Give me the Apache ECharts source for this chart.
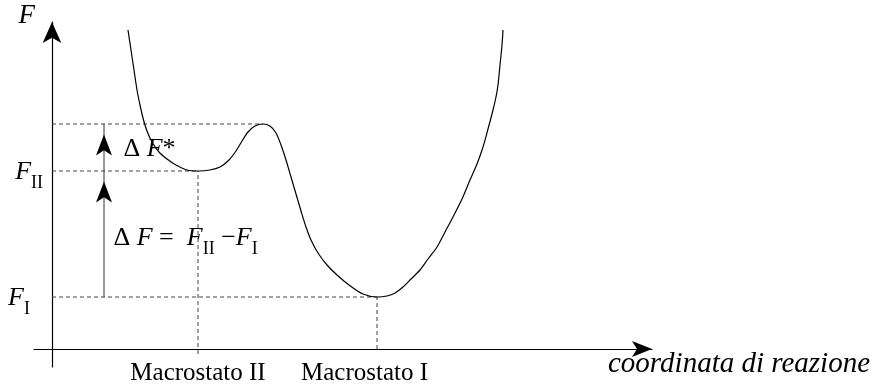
<!DOCTYPE html>
<html>
<head>
<meta charset="utf-8">
<script src="https://cdn.jsdelivr.net/npm/echarts@6/dist/echarts.min.js"></script>
<style>
  html, body { margin: 0; padding: 0; background: #fff; }
  #chart { width: 876px; height: 390px; }
</style>
</head>
<body>
<div id="chart"></div>
<script>
// profilo dell'energia libera lungo la coordinata di reazione (unita' arbitrarie)
var curveX = [76, 79, 82, 85, 88, 91, 95, 100, 107, 115, 124, 135, 146,
  158, 168, 177, 184, 190, 196, 203, 211,
  218, 224, 229, 234, 239, 244, 249, 254, 259, 266, 275, 285, 297, 311, 325,
  335, 343, 351, 359, 368, 376, 385, 393, 401, 410, 418, 425, 431, 436, 441, 444, 446, 448, 450, 451];
var curveF = [319, 299, 279, 259, 244, 231, 218, 207, 197, 190, 184, 179, 178,
  179, 182, 189, 198, 208, 217, 223, 225,
  223, 216, 204, 189, 172, 155, 138, 122, 109, 96, 84, 74, 64, 55, 52,
  53, 56, 62, 70, 79, 90, 102, 117, 132, 150, 169, 185, 202, 220, 239, 252, 264, 284, 304, 319];

var F_I = 52;        // minimo globale, Macrostato I
var F_II = 178;      // minimo locale, Macrostato II
var F_barrier = 225; // cima della barriera
var x_I = 325;
var x_II = 146;
var x_barrier = 211;
var x_arrow = 52;

var stateValues = [x_II, x_I];
var stateNames = ['Macrostato II', '{r|Macrostato I}'];
var levelValues = [F_I, F_II];
var levelNames = ['{f|F}{sI|I}', '{f|F}{s|II}'];

var notePoints = [[71, 196], [61, 107]];
var noteTexts = [
  '{d|\u0394} {f|F}{d|*}',
  '{d|\u0394} {f|F} {d|=}  {f|F}{s|II} {d|\u2212}{f|F}{s|I}'
];

var serif = 'Liberation Serif';
var rich = {
  f: { fontFamily: serif, fontStyle: 'italic', fontSize: 26, color: '#000', verticalAlign: 'top' },
  d: { fontFamily: serif, fontSize: 26, color: '#000', verticalAlign: 'top' },
  s: { fontFamily: serif, fontSize: 18, color: '#000', verticalAlign: 'bottom' },
  sI: { fontFamily: serif, fontSize: 18, color: '#000', verticalAlign: 'bottom', padding: [0, 13, 0, 0] },
  r: { fontFamily: serif, fontSize: 25, color: '#000', padding: [0, 25, 0, 0] }
};

var dashed = { color: '#444', width: 1, type: [4, 3] };
var guides = [
  [[0, F_barrier], [x_barrier, F_barrier]],
  [[0, F_II], [x_II, F_II]],
  [[0, F_I], [x_I, F_I]],
  [[x_II, -5], [x_II, F_II]],
  [[x_I, 0], [x_I, F_I]]
];

var chart = echarts.init(document.getElementById('chart'));

var series = guides.map(function (g) {
  return {
    type: 'line', data: g, symbol: 'none', silent: true,
    lineStyle: dashed, z: 1
  };
});

series.push({
  name: 'F',
  type: 'line',
  data: curveX.map(function (x, i) { return [x, curveF[i]]; }),
  smooth: 0.3,
  symbol: 'none',
  lineStyle: { color: '#000', width: 1.2 },
  z: 3
});

// frecce verticali (Delta F e Delta F*)
series.push({
  type: 'line',
  data: [[x_arrow, F_I], [x_arrow, F_barrier]],
  symbol: 'none',
  lineStyle: { color: '#333', width: 1 },
  z: 3
});
series.push({
  type: 'scatter',
  data: [[x_arrow, F_II], [x_arrow, F_barrier]],
  symbol: 'arrow',
  symbolSize: [12, 21],
  symbolOffset: [0, '50%'],
  itemStyle: { color: '#000', opacity: 1 },
  z: 4
});

series.push({
  type: 'scatter',
  data: notePoints,
  symbolSize: 1,
  itemStyle: { color: 'rgba(0,0,0,0)', opacity: 1 },
  label: {
    show: true,
    position: 'right',
    distance: 0,
    fontFamily: serif,
    fontSize: 26,
    lineHeight: 33,
    color: '#000',
    formatter: function (p) { return noteTexts[p.dataIndex]; },
    rich: rich
  },
  z: 5
});

var option = {
  animation: false,
  grid: { left: 34, right: 224, top: 22, bottom: 23, outerBoundsMode: 'none' },
  xAxis: {
    type: 'value',
    min: -18,
    max: 600,
    name: 'coordinata di reazione',
    nameLocation: 'end',
    nameGap: -44,
    nameMoveOverlap: false,
    nameTextStyle: {
      fontFamily: serif, fontStyle: 'italic', fontSize: 29, color: '#000',
      align: 'left', verticalAlign: 'top', padding: [1, 0, 0, 0]
    },
    axisLine: {
      onZero: true,
      symbol: ['none', 'arrow'],
      symbolSize: [12, 20],
      lineStyle: { color: '#000', width: 1.2 }
    },
    axisTick: { show: false },
    splitLine: { show: false },
    axisLabel: {
      customValues: stateValues,
      margin: -6,
      fontFamily: serif,
      fontSize: 25,
      color: '#000',
      formatter: function (v) { return stateNames[stateValues.indexOf(v)]; },
      rich: rich
    }
  },
  yAxis: {
    type: 'value',
    min: -18,
    max: 327,
    name: 'F',
    nameLocation: 'end',
    nameGap: 6,
    nameMoveOverlap: false,
    nameTextStyle: {
      fontFamily: serif, fontStyle: 'italic', fontSize: 27, color: '#000',
      align: 'right', verticalAlign: 'middle', padding: [0, 17, 0, 0]
    },
    axisLine: {
      onZero: true,
      symbol: ['none', 'arrow'],
      symbolSize: [14, 21],
      lineStyle: { color: '#000', width: 1.2 }
    },
    axisTick: { show: false },
    splitLine: { show: false },
    axisLabel: {
      customValues: levelValues,
      margin: -9,
      fontFamily: serif,
      fontSize: 26,
      lineHeight: 33,
      padding: [10, 0, 0, 0],
      color: '#000',
      formatter: function (v) { return levelNames[levelValues.indexOf(v)]; },
      rich: rich
    }
  },
  series: series
};

chart.setOption(option);
</script>
</body>
</html>
